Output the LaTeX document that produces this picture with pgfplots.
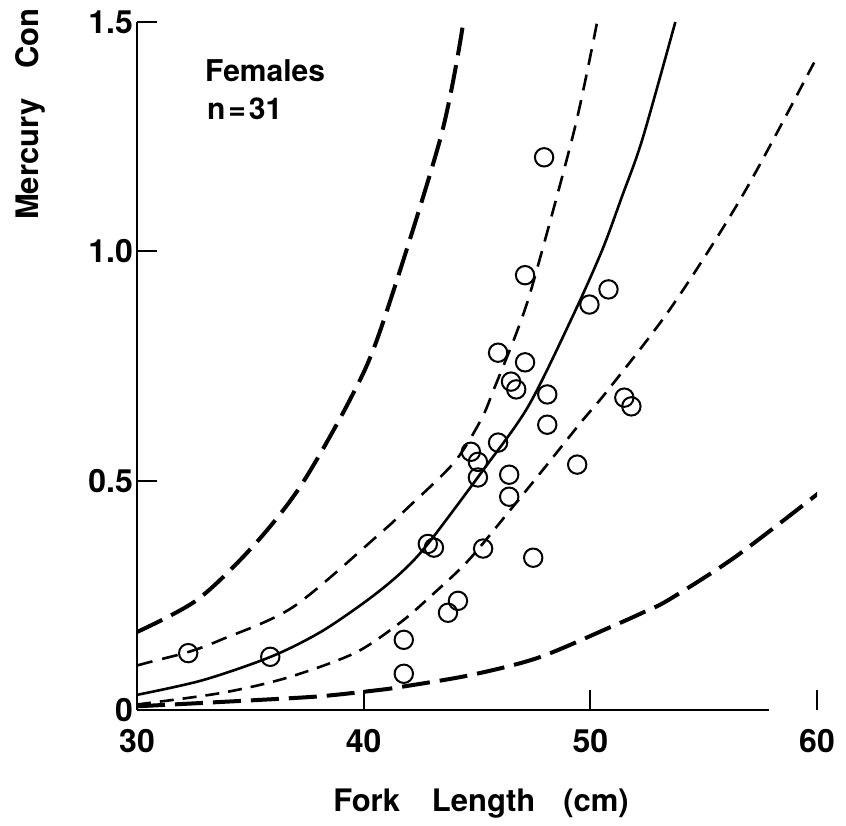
\documentclass[border=0pt]{standalone}
\usepackage{fontspec}
\setmainfont{TeX Gyre Heros}
\usepackage{pgfplots}
\pgfplotsset{compat=1.18}
\begin{document}
\begin{tikzpicture}[x=1pt,y=1pt]
\path[use as bounding box] (0,0) rectangle (423,412.5);
\begin{axis}[
  at={(68.5pt,57.5pt)}, anchor=south west,
  scale only axis, width=340pt, height=344pt,
  xmin=30, xmax=60, ymin=0, ymax=1.5,
  axis lines=left,
  axis line style={-, line width=1pt},
  x axis line style={draw=none},
  xtick={30,40,50,60}, ytick={0,0.5,1,1.5},
  xticklabels={30,40,50,60},
  yticklabels={0,0.5,1.0,1.5},
  tick align=inside,
  major tick length=10pt,
  every tick/.style={black, line width=1pt},
  tick label style={font=\bfseries\fontsize{16}{16}\selectfont},
  /pgf/number format/assume math mode=true,
  xticklabel style={yshift=-6pt},
  yticklabel style={xshift=1.5pt},
]
\draw[line width=1pt] (axis cs:30,0) -- (axis cs:57.9,0);
% upper long dashed
\addplot[black, line width=2pt, dash pattern=on 14pt off 5pt, smooth] coordinates {
(30,0.170) (32.65,0.240) (35.1,0.356) (37.2,0.487) (39.4,0.677) (40.75,0.830) (43.4,1.249) (44.4,1.500)};
% upper short dashed
\addplot[black, line width=1.3pt, dash pattern=on 8pt off 5pt, smooth] coordinates {
(30,0.097) (30.6,0.105) (32.3,0.127) (33.7,0.153) (36.9,0.225) (40.75,0.386) (41.86,0.437) (43.98,0.539) (45.18,0.633) (45.75,0.700) (46.8,0.830) (47.52,0.939) (49.3,1.266) (50.3,1.500)};
% solid regression
\addplot[black, line width=1.3pt, smooth] coordinates {
(30,0.033) (32.9,0.065) (35.9,0.116) (38.1,0.170) (40.18,0.240) (41.64,0.299) (42.83,0.362) (45.3,0.525) (47.26,0.662) (49.16,0.852) (50.5,1.000) (51.4,1.120) (52.3,1.245) (53.75,1.500)};
% lower short dashed
\addplot[black, line width=1.3pt, dash pattern=on 7pt off 4.5pt, smooth] coordinates {
(30,0.012) (33.7,0.037) (36.6,0.070) (39.6,0.124) (41.6,0.190) (43,0.250) (44.6,0.325) (46.4,0.432) (47.8,0.517) (49.6,0.628) (50.8,0.699) (53.6,0.880) (56.8,1.129) (60.3,1.452)};
% lower long dashed
\addplot[black, line width=2pt, dash pattern=on 14pt off 5pt, smooth] coordinates {
(30,0.008) (35.4,0.022) (38.1,0.030) (40.4,0.042) (41.6,0.050) (44.7,0.076) (47.7,0.114) (50.9,0.181) (52.3,0.212) (53.45,0.240) (56.4,0.334) (60.1,0.474)};
% observations
\addplot[only marks, mark=o, mark size=4.6pt, mark options={line width=1pt, black}] coordinates {
(32.26,0.124) (35.88,0.116) (41.77,0.153) (41.77,0.079) (43.72,0.212) (44.16,0.238)
(42.83,0.362) (43.1,0.354) (45.27,0.352) (47.48,0.332) (44.73,0.563) (45.04,0.541)
(45.04,0.507) (45.93,0.583) (46.42,0.513) (46.42,0.465) (48.1,0.622) (48.1,0.688)
(46.73,0.699) (46.5,0.716) (45.93,0.779) (47.12,0.758) (47.12,0.948) (47.96,1.205)
(49.96,0.884) (50.8,0.917) (51.5,0.681) (51.81,0.662) (49.42,0.535)};
\end{axis}
\node[anchor=base west, font=\bfseries\fontsize{15}{15}\selectfont] at (99,371.5) {Females};
\node[anchor=base west, font=\bfseries\fontsize{15}{15}\selectfont] at (100,352.5) {n\kern1.5pt=\kern1.5pt31};
\node[anchor=base, font=\bfseries\fontsize{15.5}{15.5}\selectfont] at (240.5,7) {Fork\hspace{16pt}Length\hspace{14pt}(cm)};
\node[rotate=90, anchor=base west, font=\bfseries\fontsize{15.5}{15.5}\selectfont] at (19.5,299) {Mercury\hspace{15pt}Con};
\end{tikzpicture}
\end{document}
